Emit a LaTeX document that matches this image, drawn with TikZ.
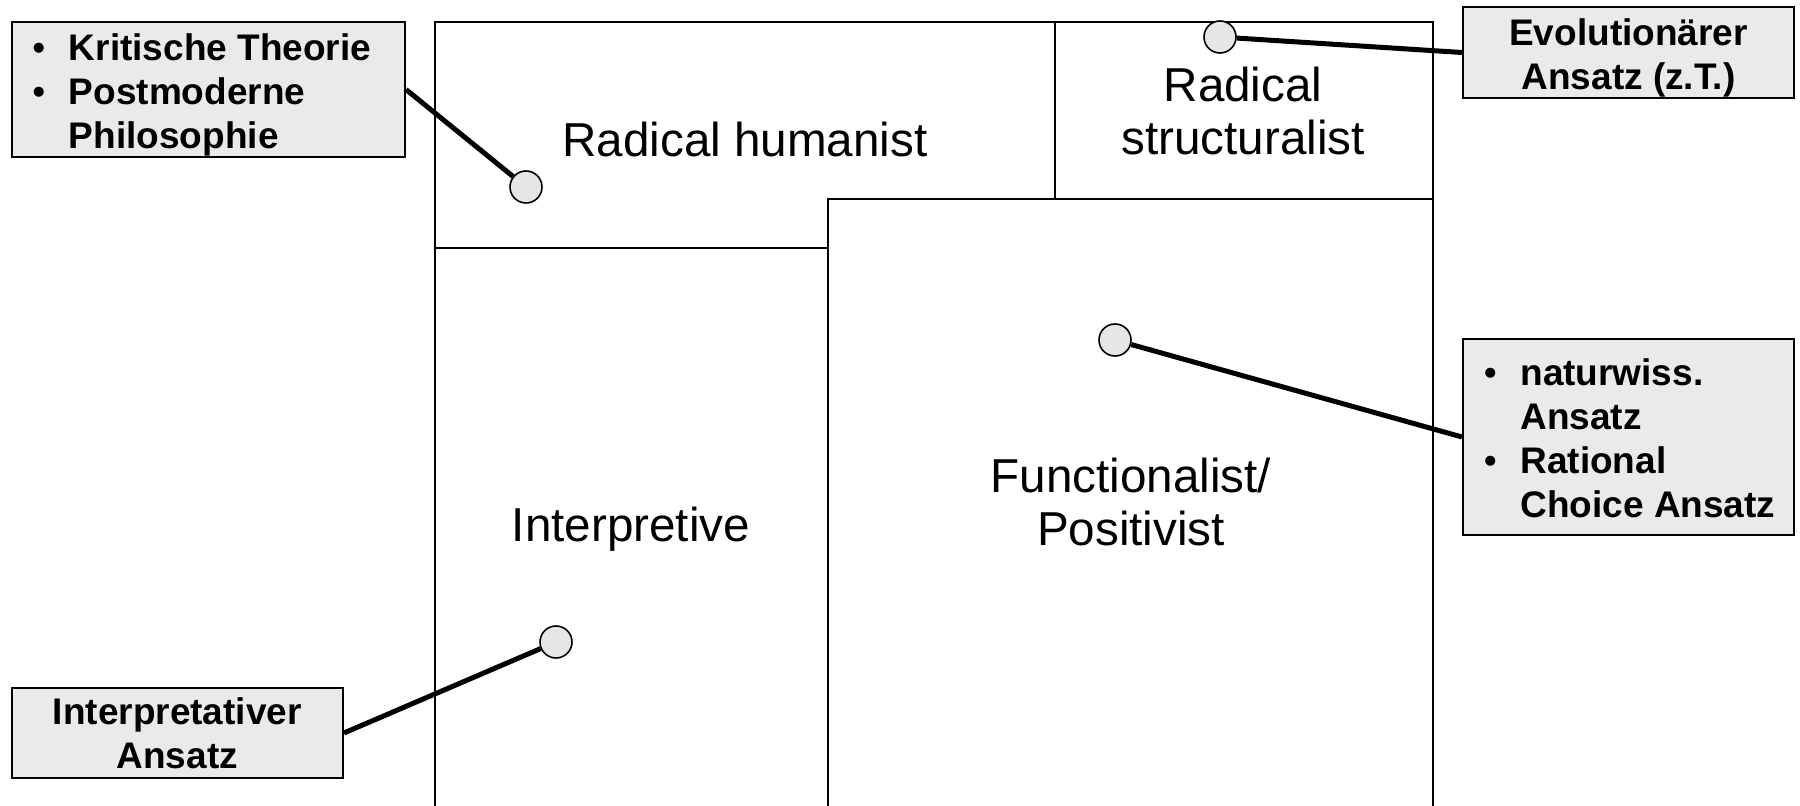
\documentclass[tikz,border=0pt]{standalone}
\usepackage{fontspec}
\setmainfont{Liberation Sans}
\definecolor{boxgray}{HTML}{EAEAEA}
\definecolor{dotgray}{HTML}{E6E6E6}
\newcommand\bul{\makebox[18.9pt][l]{\hspace*{0.6pt}\normalfont\textbullet}}
\newcommand\bsp{\hspace*{18.9pt}}
\newcommand\lowered[1]{\raisebox{-2.9pt}[\height][\depth]{#1}}
\tikzset{
  frame/.style={line width=1pt, line cap=rect},
  lbox/.style={draw, line width=1pt, fill=boxgray, inner sep=0pt,
    font=\fontsize{18.5}{22}\selectfont\bfseries},
  dot/.style={circle, draw, line width=0.8pt, fill=dotgray, minimum size=16pt, inner sep=0pt},
  conn/.style={line width=2.5pt},
  region/.style={align=center, inner sep=0pt, font=\fontsize{23.8}{26.5}\selectfont}
}
\begin{document}
\begin{tikzpicture}[x=0.5pt, y=-0.5pt]
\useasboundingbox (0,0) rectangle (1800,806);
\clip (0,0) rectangle (1800,806);
% frame
\draw[frame] (435,830) -- (435,22) -- (1433,22) -- (1433,830);
\draw[frame] (1055,22) -- (1055,199);
\draw[frame] (435,248) -- (828,248);
\draw[frame] (828,830) -- (828,199) -- (1433,199);
% region labels
\node[region] (rh) at (745,139) {Radical humanist};
\node[region] (rs) at (1243,111) {Radical\\structuralist};
\node[region] (in) at (631,529) {Interpretive};
\node[region] (fp) at (1131,502) {Functionalist/\\Positivist};
% label boxes
\node[lbox, minimum width=196.75pt, minimum height=67.5pt] (kt) at (208.25,89.5)
  {\makebox[196.75pt][l]{\hspace*{9.8pt}\lowered{\begin{tabular}{@{}l@{}}\bul Kritische Theorie\\ \bul Postmoderne\\ \bsp Philosophie\end{tabular}}}};
\node[lbox, minimum width=165.5pt, minimum height=45.5pt] (ev) at (1628.5,52.5)
  {\lowered{\begin{tabular}{@{}c@{}}Evolutionärer\\Ansatz (z.T.)\end{tabular}}};
\node[lbox, minimum width=165.5pt, minimum height=98pt] (nw) at (1628.5,437)
  {\makebox[165.5pt][l]{\hspace*{9.8pt}\lowered{\begin{tabular}{@{}l@{}}\bul naturwiss.\\ \bsp Ansatz\\ \bul Rational\\ \bsp Choice Ansatz\end{tabular}}}};
\node[lbox, align=center, minimum width=165.75pt, minimum height=45pt] (ip) at (177.25,733)
  {Interpretativer\\Ansatz};
% dots
\node[dot] (c1) at (526,187) {};
\node[dot] (c2) at (1220,37) {};
\node[dot] (c3) at (1115,340) {};
\node[dot] (c4) at (556,642) {};
% connectors
\draw[conn] (kt.east) -- (c1);
\draw[conn] (ev.west) -- (c2);
\draw[conn] (nw.west) -- (c3);
\draw[conn] (ip.east) -- (c4);
\end{tikzpicture}
\end{document}
